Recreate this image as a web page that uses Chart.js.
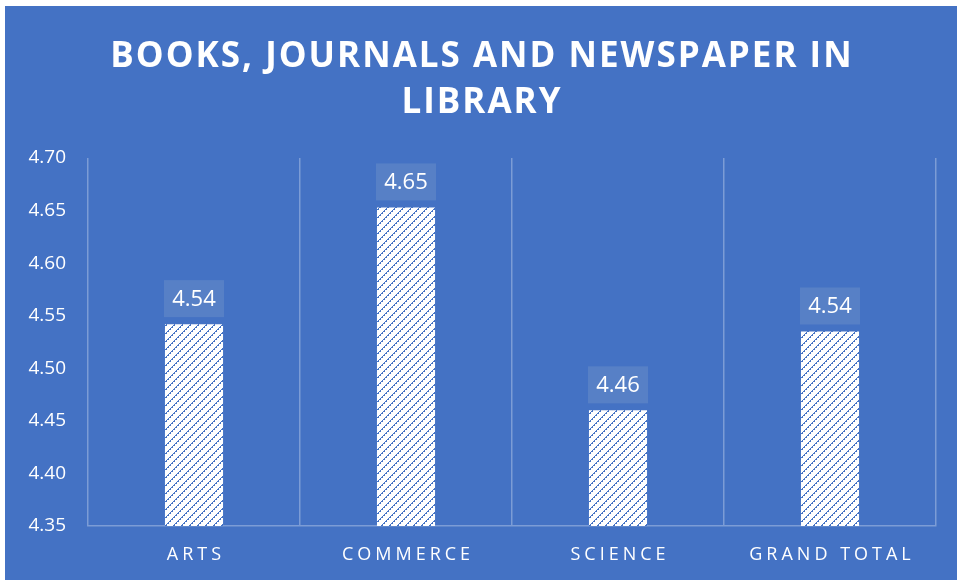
<!DOCTYPE html>
<html>
<head>
<meta charset="utf-8">
<script src="https://cdn.jsdelivr.net/npm/chart.js@4/dist/chart.umd.min.js"></script>
<style>
  body { margin: 0; background: #fff; }
  #wrap { position: absolute; left: 5px; top: 6px; width: 952px; height: 574px; background: #4472C4; }
</style>
</head>
<body>
<div id="wrap"><canvas id="myChart" width="952" height="574"></canvas></div>
<script>
const categories = ['ARTS', 'COMMERCE', 'SCIENCE', 'GRAND TOTAL'];
const values = [4.542, 4.653, 4.46, 4.535];
const valueLabels = ['4.54', '4.65', '4.46', '4.54'];
const titleLines = ['BOOKS, JOURNALS AND NEWSPAPER IN', 'LIBRARY'];

const ctx = document.getElementById('myChart');

// hatch fill for the bars (upward diagonals)
function makeHatch() {
  const n = 8;
  const tile = document.createElement('canvas');
  tile.width = n;
  tile.height = n;
  const t = tile.getContext('2d');
  t.fillStyle = '#ffffff';
  t.fillRect(0, 0, n, n);
  t.fillStyle = '#4472C4';
  for (let i = 0; i < n; i++) {
    t.fillRect(i, n - 1 - i, 1, 1);
    if (i % 2 === 0) t.fillRect((i + 1) % n, n - 1 - i, 1, 1);
  }
  return t.createPattern(tile, 'repeat');
}

const drawExtras = {
  id: 'drawExtras',
  afterDraw(chart) {
    const c = chart.ctx;
    const x = chart.scales.x;
    c.save();
    c.fillStyle = '#ffffff';
    c.textAlign = 'center';
    c.textBaseline = 'alphabetic';

    // title
    c.font = 'bold 35px "Open Sans"';
    c.letterSpacing = '2px';
    c.fillText(titleLines[0], chart.width / 2 + 1, 61);
    c.fillText(titleLines[1], chart.width / 2 + 1, 107);

    // category labels
    c.font = '18px "Open Sans"';
    c.letterSpacing = '4px';
    categories.forEach((cat, i) => {
      c.fillText(cat, x.getPixelForTick(i) + 2, 554);
    });

    // value labels
    c.letterSpacing = '0px';
    const meta = chart.getDatasetMeta(0);
    meta.data.forEach((bar, i) => {
      const bw = 60, bh = 37;
      const top = bar.y - 7 - bh;
      c.fillStyle = '#5780C6';
      c.fillRect(bar.x - bw / 2, top, bw, bh);
      c.fillStyle = '#ffffff';
      c.font = '22px "Open Sans"';
      c.textBaseline = 'middle';
      c.fillText(valueLabels[i], bar.x, top + bh / 2 + 1);
    });
    c.restore();
  }
};

new Chart(ctx, {
  type: 'bar',
  data: {
    labels: categories,
    datasets: [{
      data: values,
      backgroundColor: makeHatch(),
      borderWidth: 0,
      categoryPercentage: 1,
      barPercentage: 0.274
    }]
  },
  options: {
    responsive: false,
    animation: false,
    layout: { padding: { top: 152, right: 21, left: 0, bottom: 0 } },
    plugins: {
      legend: { display: false },
      tooltip: { enabled: false }
    },
    scales: {
      x: {
        grid: { color: 'rgba(255,255,255,0.3)', lineWidth: 1.5, drawTicks: false, offset: true },
        border: { display: true, color: 'rgba(255,255,255,0.3)', width: 1.5 },
        ticks: { display: false },
        afterFit: s => { s.height = 54; }
      },
      y: {
        min: 4.35,
        max: 4.70,
        grid: { display: false, drawTicks: false },
        border: { display: false },
        ticks: {
          stepSize: 0.05,
          color: '#ffffff',
          padding: 22,
          font: { family: '"Open Sans"', size: 19 },
          callback: v => v.toFixed(2)
        },
        afterFit: s => { s.width = 83; }
      }
    }
  },
  plugins: [drawExtras]
});
</script>
</body>
</html>
